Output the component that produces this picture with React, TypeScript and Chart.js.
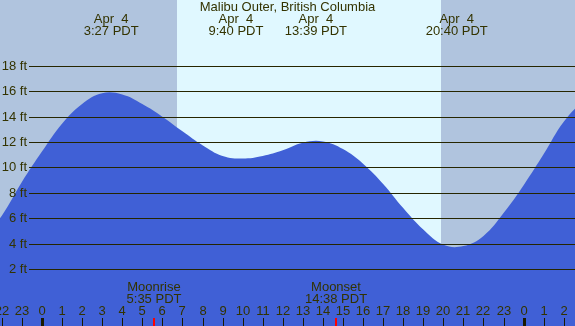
import React, { useEffect, useRef } from "react";
import { Chart, registerables } from "chart.js";

Chart.register(...registerables);

const titleText = "Malibu Outer, British Columbia";

// tide heights (ft) read at each hour relative to midnight Apr 4 (PDT)
const tideHours = [-3, -2, -1, 0, 1, 2, 3, 4, 5, 6, 7, 8, 9, 10, 11, 12, 13, 14, 15, 16, 17, 18, 19, 20, 21, 22, 23, 24, 25, 26, 27, 28];
const tideFeet = [4.3, 6.2, 8.85, 11.25, 13.45, 15.0, 15.85, 15.75, 15.0, 14.0, 12.85, 11.75, 10.9, 10.7, 10.9, 11.35, 11.95, 12.05, 11.45, 10.3, 8.7, 6.8, 5.1, 3.9, 3.8, 4.6, 6.4, 8.6, 11.05, 13.6, 15.2, 15.9];

// extreme events shown at top
const eventHours = [3.45, 9.667, 13.65, 20.667];
const eventDates = ["Apr  4", "Apr  4", "Apr  4", "Apr  4"];
const eventTimes = ["3:27 PDT", "9:40 PDT", "13:39 PDT", "20:40 PDT"];

// sun
const sunriseHour = 6.73;
const sunsetHour = 19.88;

// moon
const moonHours = [5.583, 14.633];
const moonNames = ["Moonrise", "Moonset"];
const moonTimes = ["5:35 PDT", "14:38 PDT"];

// axis
const hourTicks = [-2, -1, 0, 1, 2, 3, 4, 5, 6, 7, 8, 9, 10, 11, 12, 13, 14, 15, 16, 17, 18, 19, 20, 21, 22, 23, 24, 25, 26];
const feetTicks = [2, 4, 6, 8, 10, 12, 14, 16, 18];

const X_MIN = -2.09;
const X_MAX = 26.56;
const Y_MIN = -2.5;
const Y_MAX = 23.2;

const NIGHT = "#b0c4de";
const DAY = "#e0f8ff";
const WATER = "#4060d6";
const INK = "#333300";
const LINE = "#262600";
const FONT = '13px "Liberation Sans", Arial, sans-serif';

const decorPlugin = {
  id: "tideDecor",
  beforeDatasetsDraw(chart: any) {
    const { ctx, width, height } = chart;
    const xs = chart.scales.x;
    ctx.save();
    ctx.fillStyle = NIGHT;
    ctx.fillRect(0, 0, width, height);
    const x1 = Math.round(xs.getPixelForValue(sunriseHour));
    const x2 = Math.round(xs.getPixelForValue(sunsetHour));
    ctx.fillStyle = DAY;
    ctx.fillRect(x1, 0, x2 - x1, height);
    ctx.restore();
  },
  afterDatasetsDraw(chart: any) {
    const { ctx, width, height } = chart;
    const xs = chart.scales.x;
    const ys = chart.scales.y;
    ctx.save();
    ctx.font = FONT;
    // horizontal lines and labels
    feetTicks.forEach((ft) => {
      const y = Math.round(ys.getPixelForValue(ft)) + 0.5;
      ctx.strokeStyle = LINE;
      ctx.lineWidth = 1;
      ctx.beginPath();
      ctx.moveTo(29, y);
      ctx.lineTo(width, y);
      ctx.stroke();
      ctx.fillStyle = INK;
      ctx.textAlign = "right";
      ctx.textBaseline = "middle";
      ctx.fillText(ft + " ft", 27, y);
    });
    // hour ticks
    hourTicks.forEach((h) => {
      const x = Math.round(xs.getPixelForValue(h));
      const lab = String(((h % 24) + 24) % 24);
      ctx.fillStyle = INK;
      ctx.textAlign = "center";
      ctx.textBaseline = "middle";
      ctx.fillText(lab, x, 311);
      ctx.fillStyle = "#1a1a00";
      if (((h % 24) + 24) % 24 === 0) {
        ctx.fillRect(x - 1, 318, 3, height - 318);
      } else {
        ctx.fillRect(x, 318, 1, height - 318);
      }
    });
    // moon
    moonHours.forEach((h, i) => {
      const x = Math.round(xs.getPixelForValue(h));
      ctx.fillStyle = "#ff0000";
      ctx.fillRect(x - 1, 318, 2, height - 318);
      ctx.fillStyle = INK;
      ctx.textAlign = "center";
      ctx.textBaseline = "middle";
      ctx.fillText(moonNames[i], x, 287);
      ctx.fillText(moonTimes[i], x, 299);
    });
    // top texts
    ctx.fillStyle = INK;
    ctx.textAlign = "center";
    ctx.textBaseline = "middle";
    ctx.fillText(titleText, 287.5, 7.5);
    eventHours.forEach((h, i) => {
      const x = xs.getPixelForValue(h);
      ctx.fillText(eventDates[i], x, 19.5);
      ctx.fillText(eventTimes[i], x, 31.5);
    });
    ctx.restore();
  },
};

export default function App() {
  const ref = useRef<HTMLCanvasElement | null>(null);
  useEffect(() => {
    document.body.style.margin = "0";
    const canvas = ref.current;
    if (!canvas) return;
    const chart = new Chart(canvas, {
      type: "line",
      data: {
        datasets: [
          {
            data: tideHours.map((h, i) => ({ x: h, y: tideFeet[i] })),
            backgroundColor: WATER,
            borderWidth: 0,
            borderColor: WATER,
            pointRadius: 0,
            fill: "start",
            tension: 0.4,
          },
        ],
      },
      options: {
        animation: false,
        responsive: false,
        maintainAspectRatio: false,
        layout: { padding: 0 },
        plugins: { legend: { display: false }, tooltip: { enabled: false } },
        scales: {
          x: { type: "linear", min: X_MIN, max: X_MAX, display: false },
          y: { type: "linear", min: Y_MIN, max: Y_MAX, display: false },
        },
      },
      plugins: [decorPlugin],
    });
    return () => chart.destroy();
  }, []);
  return (
    <div style={{ position: "fixed", left: 0, top: 0, width: 575, height: 326 }}>
      <canvas ref={ref} width={575} height={326} style={{ display: "block", width: 575, height: 326 }} />
    </div>
  );
}
